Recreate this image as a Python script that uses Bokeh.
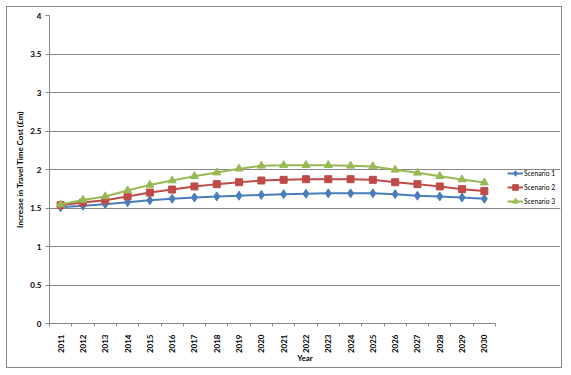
from bokeh.plotting import figure
from bokeh.models import FixedTicker, CustomJSTickFormatter, Legend, LegendItem, Range1d
from bokeh.embed import file_html
from bokeh.resources import INLINE
import math

years = list(range(2011, 2031))
scenario1 = [1.51, 1.53, 1.55, 1.575, 1.60, 1.62, 1.636, 1.65, 1.66, 1.67,
             1.68, 1.685, 1.69, 1.69, 1.69, 1.68, 1.66, 1.65, 1.636, 1.62]
scenario2 = [1.537, 1.57, 1.60, 1.65, 1.70, 1.74, 1.78, 1.81, 1.835, 1.857,
             1.866, 1.874, 1.874, 1.874, 1.866, 1.835, 1.81, 1.78, 1.745, 1.72]
scenario3 = [1.545, 1.605, 1.65, 1.727, 1.80, 1.857, 1.913, 1.96, 2.01, 2.048,
             2.055, 2.056, 2.056, 2.048, 2.04, 1.996, 1.957, 1.913, 1.87, 1.83]
y_ticks = [0, 0.5, 1, 1.5, 2, 2.5, 3, 3.5, 4]
series_names = ["Scenario 1", "Scenario 2", "Scenario 3"]

GRAY = "#878787"
FONT = "Lato"

x_lo, x_hi = years[0] - 0.5, years[-1] + 0.5
# frame spans 511px; 20 categories occupy 446px, the rest holds the legend
x_extent = x_lo + (x_hi - x_lo) * 511 / 446

p = figure(width=556, height=362, output_backend="svg", toolbar_location=None,
           x_range=Range1d(x_lo, x_extent), y_range=Range1d(0, 4),
           min_border_left=42, min_border_right=3, min_border_top=8, min_border_bottom=46)
p.margin = (6, 0, 0, 6)
p.styles = {"border": "1px solid #878787"}
p.outline_line_color = None
p.background_fill_color = "white"
p.border_fill_color = "white"

# grid
p.xgrid.grid_line_color = None
p.ygrid.grid_line_color = GRAY
p.ygrid.grid_line_width = 1
p.ygrid.bounds = (x_lo, x_hi)

# x axis
xt = FixedTicker(ticks=years, minor_ticks=[y - 0.5 for y in years] + [x_hi])
p.xaxis.ticker = xt
p.xaxis.bounds = (x_lo, x_hi)
p.xaxis.major_tick_line_color = None
p.xaxis.minor_tick_line_color = GRAY
p.xaxis.minor_tick_in = 0
p.xaxis.minor_tick_out = 3
p.xaxis.major_label_orientation = math.pi / 2
p.xaxis.major_label_standoff = 5
p.xaxis.axis_label = "Year"
p.xaxis.axis_label_standoff = -3

# y axis
p.yaxis.ticker = FixedTicker(ticks=y_ticks, minor_ticks=[])
p.yaxis.formatter = CustomJSTickFormatter(code="return tick.toString();")
p.yaxis.major_tick_in = 0
p.yaxis.major_tick_out = 4
p.yaxis.major_tick_line_color = GRAY
p.yaxis.major_label_standoff = 4
p.yaxis.axis_label = "Increase in Travel Time Cost (£m)"
p.yaxis.axis_label_standoff = 2

for ax in (p.xaxis, p.yaxis):
    ax.axis_line_color = GRAY
    ax.major_label_text_font = FONT
    ax.major_label_text_font_style = "bold"
    ax.major_label_text_font_size = "8px"
    ax.major_label_text_color = "black"
    ax.axis_label_text_font = FONT
    ax.axis_label_text_font_style = "bold"
    ax.axis_label_text_font_size = "8px"
    ax.axis_label_text_color = "black"

colors = ["#4A7EBB", "#BE4B48", "#98B954"]
data = [scenario1, scenario2, scenario3]
items = []
for name, vals, c, mk in zip(series_names, data, colors, ["diamond", "square", "triangle"]):
    ln = p.line(years, vals, line_color=c, line_width=2)
    size = {"diamond": 9, "square": 7, "triangle": 8}[mk]
    sc = p.scatter(years, vals, marker=mk, size=size, fill_color=c, line_color=c)
    items.append(LegendItem(label=name, renderers=[ln, sc]))

legend = Legend(items=items, location=(458, 115), border_line_color=None,
                background_fill_alpha=0, padding=0, margin=0, spacing=0,
                glyph_width=16, glyph_height=14, label_height=14, label_standoff=1,
                label_text_font=FONT, label_text_font_size="6.8px", label_text_color="black")
p.add_layout(legend, "center")

open("out.html", "w").write(file_html(p, INLINE))
